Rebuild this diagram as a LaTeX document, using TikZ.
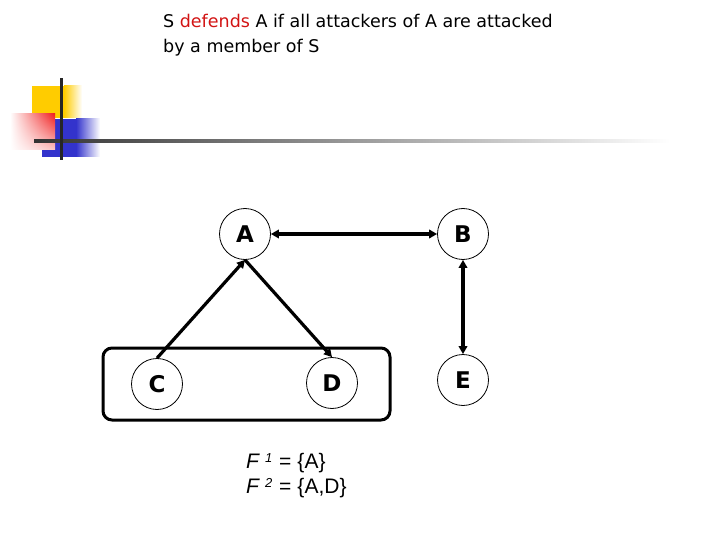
\documentclass[tikz,border=0pt]{standalone}
\usepackage{fontspec}
\setmainfont{DejaVu Sans}
\newfontfamily\arialf{Liberation Sans}
\usetikzlibrary{arrows.meta,shadings}
\definecolor{deco yellow}{RGB}{255,204,0}
\definecolor{deco red}{RGB}{240,30,30}
\definecolor{deco blue}{RGB}{51,51,204}
\definecolor{titlered}{RGB}{210,20,20}
\tikzset{
  vertex/.style={circle,draw,line width=0.8pt,minimum size=51pt,inner sep=0pt,
    font=\fontsize{23}{23}\selectfont\bfseries},
  attack/.style={line width=3.2pt,-{Triangle[length=8pt,width=8.5pt]}},
  mutual/.style={line width=3.2pt,{Triangle[length=8pt,width=8.5pt]}-{Triangle[length=8pt,width=8.5pt]}},
  flabel/.style={anchor=base west,inner sep=0pt,font=\arialf\fontsize{21}{24}\selectfont},
}
\newcommand{\supi}[1]{\kern5pt\raisebox{6pt}{\fontsize{13}{13}\selectfont\textit{#1}}\kern7pt=\kern6pt}
\begin{document}
\begin{tikzpicture}[x=1pt,y=-1pt]
\useasboundingbox (0,0) rectangle (720,540);
% decoration
\fill[deco yellow] (32,86) rectangle (64,118);
\shade[left color=deco yellow,right color=white] (64,86) rectangle (82,118);
\fill[deco blue] (42,119) rectangle (76,157);
\shade[left color=deco blue,right color=white] (76,119) rectangle (100,157);
\shade[upper right=deco red,upper left=white,lower left=white,lower right=deco red!25] (10,114) rectangle (55,150);
\shade[left color=black!80,right color=white] (34,139.5) rectangle (670,142.5);
\fill[black!85] (59.5,78) rectangle (62.5,160);
% title
\node[anchor=base west,inner sep=0pt,font=\fontsize{17.5}{25}\selectfont] (t1) at (163,28)
  {S \textcolor{titlered}{defends} A if all attackers of A are attacked};
\node[anchor=base west,inner sep=0pt,font=\fontsize{17.5}{25}\selectfont] (t2) at (163,53)
  {by a member of S};
% nodes
\node[vertex] (A) at (245,234) {A};
\node[vertex] (B) at (463,234) {B};
\node[vertex] (C) at (157,384) {C};
\node[vertex] (D) at (332,383) {D};
\node[vertex] (E) at (463,380) {E};
% set S
\draw[line width=3pt,rounded corners=9pt] (103,348) rectangle (390,420);
% edges
\draw[attack] (C.north) -- (A.south);
\draw[attack] (A.south) -- (D.north);
\draw[mutual] (A) -- (B);
\draw[mutual] (B) -- (E);
% F labels
\node[flabel] (f1) at (246,468) {\textit{F}\supi{1}\{A\}};
\node[flabel] (f2) at (246,493) {\textit{F}\supi{2}\{A,D\}};
\end{tikzpicture}
\end{document}
